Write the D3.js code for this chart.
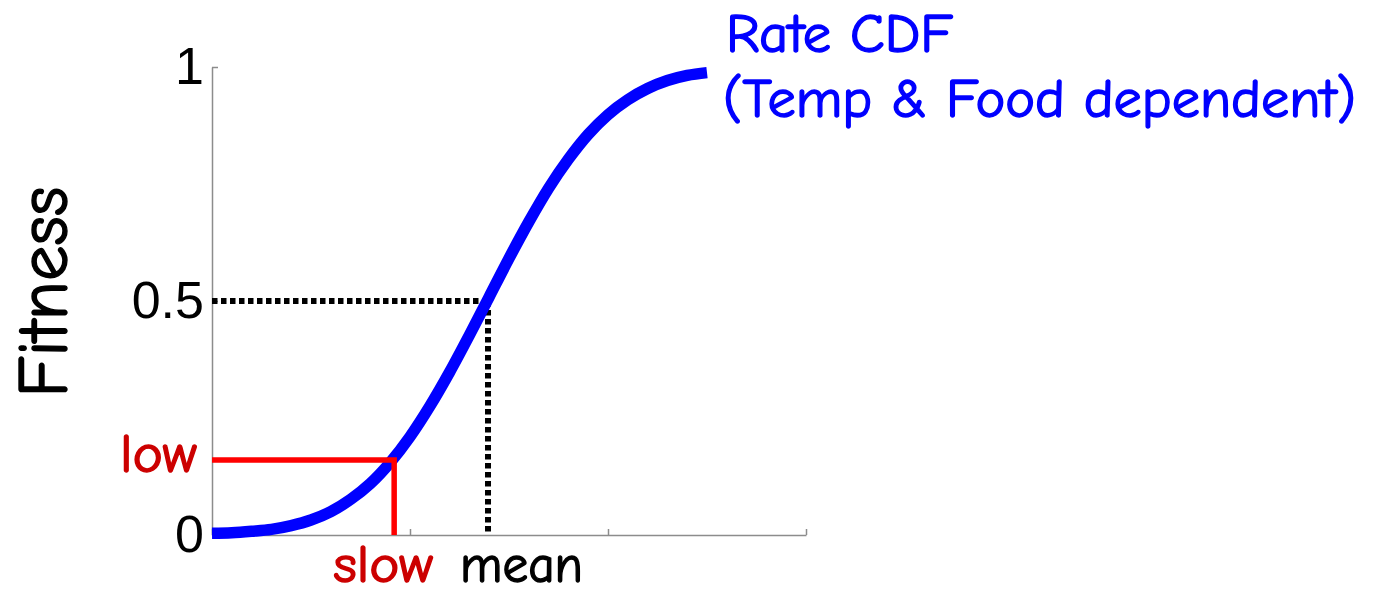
<!DOCTYPE html>
<html>
<head>
<meta charset="utf-8">
<script src="https://cdn.jsdelivr.net/npm/d3@7"></script>
<style>
  html, body { margin: 0; padding: 0; background: #fff; }
  svg { display: block; }
</style>
</head>
<body>
<svg id="chart" width="1377" height="591"></svg>
<script>
// ---- data ----
const rate = [0.0, 0.1, 0.2, 0.3, 0.4, 0.5, 0.6, 0.7, 0.8, 0.9, 1.0, 1.1, 1.2,
              1.3, 1.4, 1.5, 1.6, 1.7, 1.8, 1.9, 2.0, 2.1, 2.2, 2.3, 2.4, 2.5];
const fitness = [0.004, 0.005, 0.008, 0.012, 0.02, 0.032, 0.05, 0.076, 0.11, 0.155,
                 0.21, 0.275, 0.348, 0.427, 0.509, 0.591, 0.669, 0.741, 0.803, 0.856,
                 0.898, 0.93, 0.954, 0.971, 0.982, 0.988];
const yTicks = [0, 0.5, 1];
const yTickLabels = ["0", "0.5", "1"];
const xTicks = [0, 1, 2, 3];
const slowRate = 0.92, lowFitness = 0.16;
const meanRate = 1.394, meanFitness = 0.5;
const curveLabel = ["Rate CDF", "(Temp & Food dependent)"];
const yLabel = "Fitness";
const slowLabel = "slow", meanLabel = "mean", lowLabel = "low";

// ---- layout ----
const svg = d3.select("#chart");
const x = d3.scaleLinear().domain([0, 3]).range([212, 806]);
const y = d3.scaleLinear().domain([0, 1]).range([535, 67]);
const comic = "'Comic Sans MS', 'Comic Neue', Lato, 'DejaVu Sans', sans-serif";
const axisColor = "#8c8c8c";

// axes
const yAxis = d3.axisLeft(y).tickValues(yTicks)
  .tickFormat((d, i) => yTickLabels[i]).tickSizeInner(-6).tickSizeOuter(0).tickPadding(8);
const gy = svg.append("g").attr("transform", `translate(${x(0)},0)`).call(yAxis);
gy.select(".domain").attr("stroke", axisColor).attr("stroke-width", 1.5);
gy.selectAll(".tick line").attr("stroke", axisColor).attr("stroke-width", 1.5);
gy.selectAll(".tick text").attr("font-family", "'Liberation Sans', Arial, sans-serif")
  .attr("font-size", 52).attr("fill", "#000");

const xAxis = d3.axisBottom(x).tickValues(xTicks).tickFormat("")
  .tickSizeInner(-6).tickSizeOuter(0);
const gx = svg.append("g").attr("transform", `translate(0,${y(0)})`).call(xAxis);
gx.select(".domain").attr("stroke", axisColor).attr("stroke-width", 1.5);
gx.selectAll(".tick line").attr("stroke", axisColor).attr("stroke-width", 1.5);

// dotted mean guide
const guide = d3.line().x(d => x(d[0])).y(d => y(d[1]));
svg.append("path")
  .attr("d", guide([[0, meanFitness], [meanRate, meanFitness]]))
  .attr("fill", "none").attr("stroke", "#000").attr("stroke-width", 6)
  .attr("stroke-dasharray", "5.5,3.5");
svg.append("path")
  .attr("d", guide([[meanRate, meanFitness], [meanRate, 0]]))
  .attr("fill", "none").attr("stroke", "#000").attr("stroke-width", 6)
  .attr("stroke-dasharray", "5.5,3.5");

// CDF curve
const line = d3.line().x((d, i) => x(rate[i])).y(d => y(d)).curve(d3.curveMonotoneX);
svg.append("path").attr("d", line(fitness))
  .attr("fill", "none").attr("stroke", "#0000ff").attr("stroke-width", 11.5);

// red slow/low guide
svg.append("path")
  .attr("d", guide([[0, lowFitness], [slowRate, lowFitness], [slowRate, 0]]))
  .attr("fill", "none").attr("stroke", "#ff0000").attr("stroke-width", 5.5)
  .attr("stroke-linejoin", "miter");

// labels
function comicText(t, color) {
  return svg.append("text").text(t).attr("font-family", comic)
    .attr("fill", color).attr("stroke", color).attr("stroke-width", 1.4)
    .attr("lengthAdjust", "spacingAndGlyphs");
}
comicText(yLabel, "#000")
  .attr("transform", `translate(67,292) rotate(-90)`)
  .attr("text-anchor", "middle").attr("font-size", 70).attr("textLength", 211);

comicText(lowLabel, "#cc0000")
  .attr("x", 120).attr("y", 472).attr("font-size", 54).attr("textLength", 77);

comicText(slowLabel, "#cc0000")
  .attr("x", x(slowRate) - 61).attr("y", 582).attr("font-size", 52).attr("textLength", 100);

comicText(meanLabel, "#000")
  .attr("x", x(meanRate) - 28).attr("y", 582).attr("font-size", 52).attr("textLength", 123);

const lastIdx = rate.length - 1;
comicText(curveLabel[0], "#0000ff")
  .attr("x", x(rate[lastIdx]) + 19).attr("y", 52).attr("font-size", 54).attr("textLength", 227);
comicText(curveLabel[1], "#0000ff")
  .attr("x", x(rate[lastIdx]) + 16).attr("y", 117).attr("font-size", 54).attr("textLength", 633);
</script>
</body>
</html>
